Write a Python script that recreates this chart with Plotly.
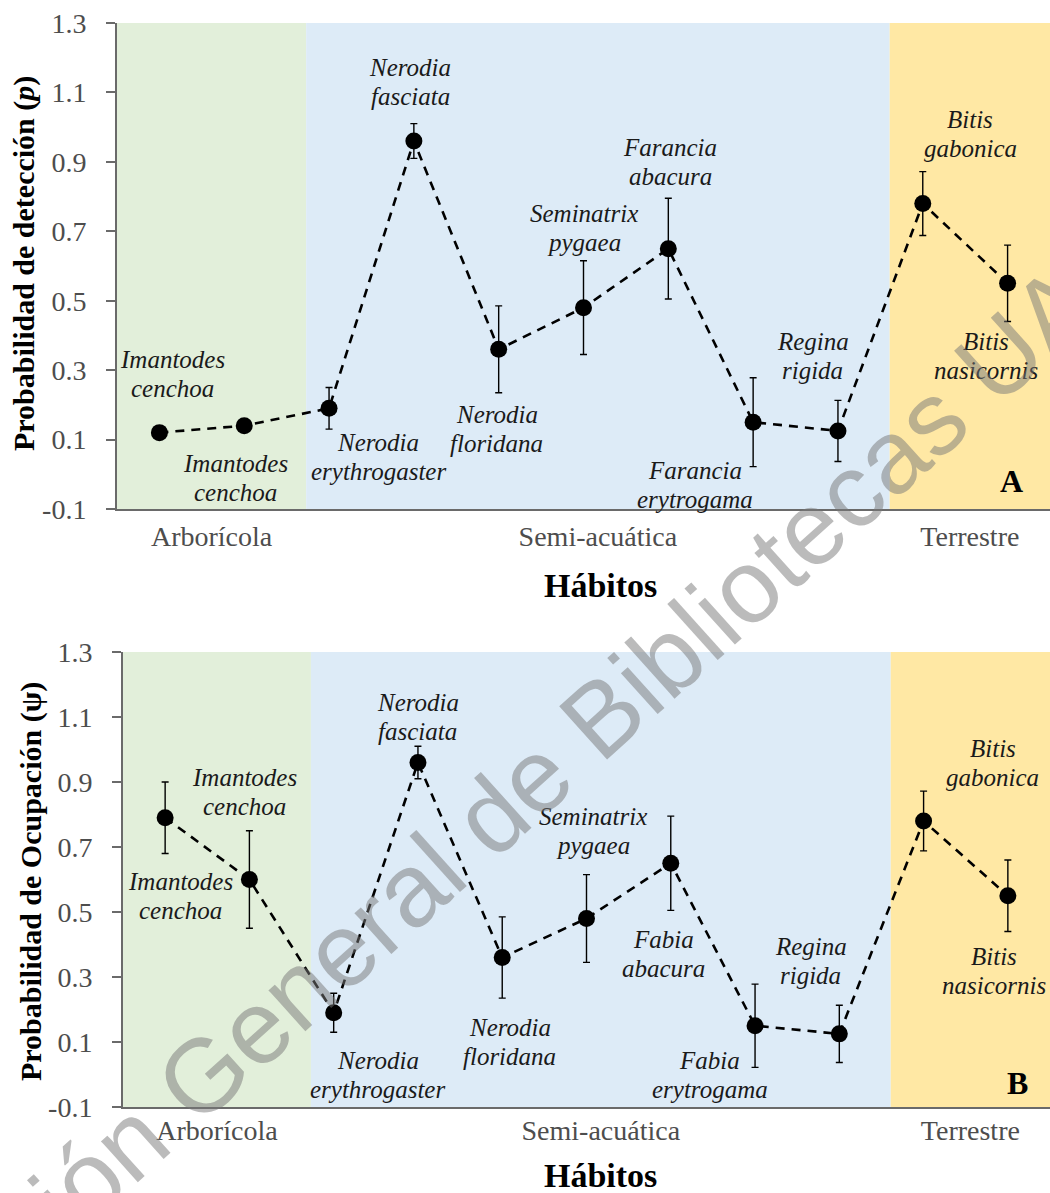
import plotly.graph_objects as go

# ---- data -------------------------------------------------------------
x_pos = [0.5 + i for i in range(11)]

species_p = ["Imantodes\ncenchoa", "Imantodes\ncenchoa", "Nerodia\nerythrogaster",
             "Nerodia\nfasciata", "Nerodia\nfloridana", "Seminatrix\npygaea",
             "Farancia\nabacura", "Farancia\nerytrogama", "Regina\nrigida",
             "Bitis\ngabonica", "Bitis\nnasicornis"]
species_psi = ["Imantodes\ncenchoa", "Imantodes\ncenchoa", "Nerodia\nerythrogaster",
               "Nerodia\nfasciata", "Nerodia\nfloridana", "Seminatrix\npygaea",
               "Fabia\nabacura", "Fabia\nerytrogama", "Regina\nrigida",
               "Bitis\ngabonica", "Bitis\nnasicornis"]

p_detect = [0.12, 0.14, 0.19, 0.96, 0.36, 0.48, 0.65, 0.15, 0.125, 0.78, 0.55]
p_detect_err = [0, 0, 0.06, 0.05, 0.125, 0.135, 0.145, 0.128, 0.088, 0.092, 0.11]

psi_occ = [0.79, 0.60, 0.19, 0.96, 0.36, 0.48, 0.65, 0.15, 0.125, 0.78, 0.55]
psi_occ_err = [0.11, 0.15, 0.06, 0.05, 0.125, 0.135, 0.145, 0.128, 0.088, 0.092, 0.11]

habitats = ["Arborícola", "Semi-acuática", "Terrestre"]
habitat_edges = [0, 2.23, 9.11, 11]
habitat_colors = ["#E2EFDA", "#DDEBF7", "#FFE8A4"]

y_ticks = [-0.1, 0.1, 0.3, 0.5, 0.7, 0.9, 1.1, 1.3]
y_tick_text = ["-0.1", "0.1", "0.3", "0.5", "0.7", "0.9", "1.1", "1.3"]

# species label placement (x, y) in axis units
label_xy_p = [(0.65, 0.29), (1.40, -0.01), (3.08, 0.05), (3.46, 1.13), (4.48, 0.13),
              (5.50, 0.71), (6.52, 0.90), (6.82, -0.03), (8.20, 0.34), (10.06, 0.98),
              (10.24, 0.34)]
label_xy_psi = [(0.68, 0.55), (1.44, 0.87), (3.02, 0.0), (3.50, 1.10), (4.59, 0.10),
                (5.58, 0.75), (6.41, 0.37), (6.96, 0.0), (8.16, 0.35), (10.32, 0.96),
                (10.34, 0.32)]

# ---- layout geometry (pixels) ----------------------------------------
W, H = 1050, 1193
SERIF = "Liberation Serif, Times New Roman, serif"
AXIS_GREY = "#6a6a6a"
TICK_GREY = "#4d4d4d"

panels = [
    dict(xa="x", ya="y", left=117, top=23, bottom=509, xlab_standoff=1,
         y=p_detect, err=p_detect_err, labels=species_p, pos=label_xy_p,
         ytitle="Probabilidad de detección (<i>p</i>)", ytitle_xy=(24, 264),
         xtitle_xy=(600, 585), letter="A", letter_xy=(10.55, -0.02)),
    dict(xa="x2", ya="y2", left=123, top=652, bottom=1107, xlab_standoff=-3,
         y=psi_occ, err=psi_occ_err, labels=species_psi, pos=label_xy_psi,
         ytitle="Probabilidad de Ocupación (ψ)", ytitle_xy=(31, 882),
         xtitle_xy=(600, 1175), letter="B", letter_xy=(10.62, -0.025)),
]

fig = go.Figure()
shapes = []
annotations = []
LH = 29  # line height of species labels, px

for i, pn in enumerate(panels):
    suffix = "" if i == 0 else "2"
    xaxis_name = "xaxis" + suffix
    yaxis_name = "yaxis" + suffix

    fig.add_trace(go.Scatter(
        x=x_pos, y=pn["y"], xaxis=pn["xa"], yaxis=pn["ya"],
        mode="lines+markers",
        line=dict(color="black", width=2.6, dash="9px,7px"),
        marker=dict(color="black", size=17),
        error_y=dict(type="data", array=pn["err"], visible=True,
                     color="black", thickness=1.4, width=3.5),
        showlegend=False, hoverinfo="skip",
    ))

    # habitat background bands
    for k in range(3):
        shapes.append(dict(type="rect", xref=pn["xa"], yref=pn["ya"] + " domain",
                           x0=habitat_edges[k], x1=habitat_edges[k + 1], y0=0, y1=1,
                           fillcolor=habitat_colors[k], line=dict(width=0),
                           layer="below"))

    centers = [(habitat_edges[k] + habitat_edges[k + 1]) / 2 for k in range(3)]
    fig.layout[xaxis_name] = dict(
        domain=[pn["left"] / W, 1], range=[0, 11], anchor=pn["ya"],
        showgrid=False, zeroline=False, showline=True,
        linecolor=AXIS_GREY, linewidth=2, ticks="",
        tickvals=centers, ticktext=habitats,
        ticklabelstandoff=pn["xlab_standoff"],
        tickfont=dict(family=SERIF, size=28, color=TICK_GREY),
        automargin=False, fixedrange=True,
    )
    fig.layout[yaxis_name] = dict(
        domain=[1 - pn["bottom"] / H, 1 - pn["top"] / H], range=[-0.1, 1.3],
        anchor=pn["xa"], showgrid=False, zeroline=False, showline=True,
        linecolor=AXIS_GREY, linewidth=2, ticks="outside", ticklen=9,
        tickwidth=1.5, tickcolor=AXIS_GREY,
        tickvals=y_ticks, ticktext=y_tick_text, ticklabelstandoff=14,
        tickfont=dict(family=SERIF, size=28, color=TICK_GREY),
        automargin=False, fixedrange=True,
    )

    # species labels, one annotation per text line
    for text, (lx, ly) in zip(pn["labels"], pn["pos"]):
        lines = text.split("\n")
        n = len(lines)
        for j, line in enumerate(lines):
            annotations.append(dict(
                x=lx, y=ly, xref=pn["xa"], yref=pn["ya"],
                text="<i>" + line + "</i>", showarrow=False,
                xanchor="center", yanchor="middle",
                yshift=(n - 1) / 2 * LH - j * LH,
                font=dict(family=SERIF, size=25, color="#1a1a1a"),
            ))

    # panel letter
    annotations.append(dict(
        x=pn["letter_xy"][0], y=pn["letter_xy"][1], xref=pn["xa"], yref=pn["ya"],
        text="<b>" + pn["letter"] + "</b>", showarrow=False,
        xanchor="center", yanchor="middle",
        font=dict(family=SERIF, size=32, color="black"),
    ))

    # axis titles
    annotations.append(dict(
        x=pn["xtitle_xy"][0] / W, y=1 - pn["xtitle_xy"][1] / H,
        xref="paper", yref="paper", text="<b>Hábitos</b>", showarrow=False,
        xanchor="center", yanchor="middle",
        font=dict(family=SERIF, size=34, color="black"),
    ))
    annotations.append(dict(
        x=pn["ytitle_xy"][0] / W, y=1 - pn["ytitle_xy"][1] / H,
        xref="paper", yref="paper", text="<b>" + pn["ytitle"] + "</b>",
        showarrow=False, textangle=-90, xanchor="center", yanchor="middle",
        font=dict(family=SERIF, size=30, color="black"),
    ))

# library watermark across the page
annotations.append(dict(
    x=484 / W, y=1 - 822 / H, xref="paper", yref="paper",
    text="Dirección General de Bibliotecas UAQ", showarrow=False,
    textangle=-42, xanchor="center", yanchor="middle",
    font=dict(family="Liberation Sans, Arial, sans-serif", size=104,
              color="rgba(120,120,120,0.5)"),
))

fig.update_layout(
    width=W, height=H,
    margin=dict(l=0, r=0, t=0, b=0, autoexpand=False),
    paper_bgcolor="white", plot_bgcolor="white",
    shapes=shapes, annotations=annotations,
)

fig.write_html("out.html", config={"displayModeBar": False})
